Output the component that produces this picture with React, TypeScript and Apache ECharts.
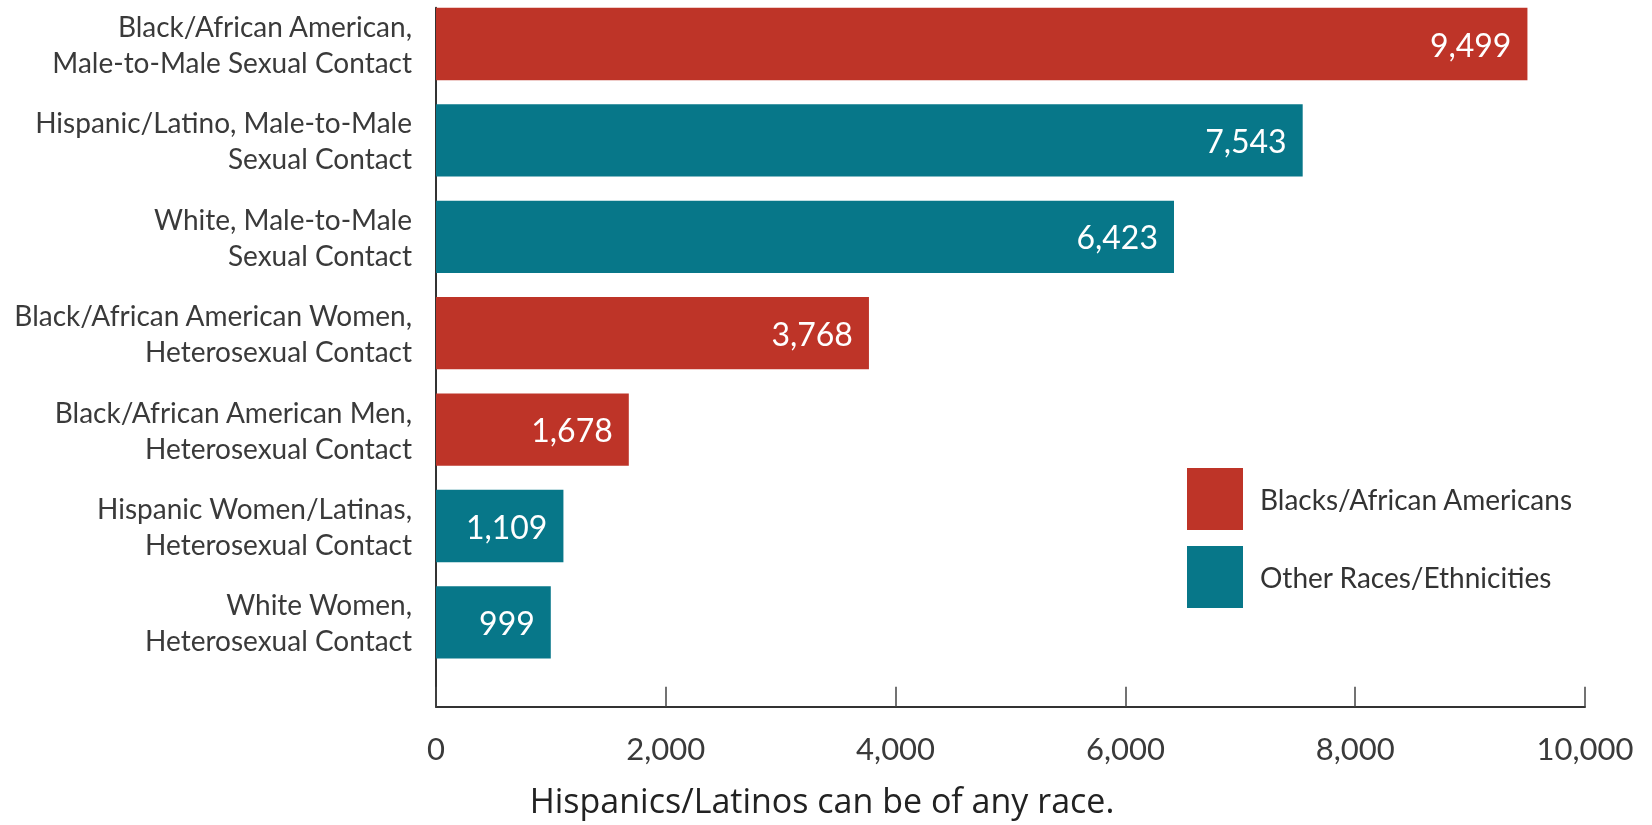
import React, { useEffect, useRef } from 'react';
import * as echarts from 'echarts';

const categories = [
  'Black/African American,\nMale-to-Male Sexual Contact',
  'Hispanic/Latino, Male-to-Male\nSexual Contact',
  'White, Male-to-Male\nSexual Contact',
  'Black/African American Women,\nHeterosexual Contact',
  'Black/African American Men,\nHeterosexual Contact',
  'Hispanic Women/Latinas,\nHeterosexual Contact',
  'White Women,\nHeterosexual Contact',
];
const values = [9499, 7543, 6423, 3768, 1678, 1109, 999];
const groupOf = [0, 1, 1, 0, 0, 1, 1];
const groupNames = ['Blacks/African Americans', 'Other Races/Ethnicities'];
const groupColors = ['#BE3428', '#077789'];
const xMin = 0;
const xMax = 10000;
const xInterval = 2000;
const note = 'Hispanics/Latinos can be of any race.';

const FONT = 'Lato, "Noto Sans", sans-serif';

export default function App() {
  const ref = useRef<HTMLDivElement>(null);
  useEffect(() => {
    if (!ref.current) return;
    const chart = echarts.init(ref.current, undefined, { renderer: 'svg' });

    const series = groupNames.map((name, g) => ({
      type: 'custom',
      name,
      itemStyle: { color: groupColors[g] },
      encode: { x: 0, y: 1 },
      data: values
        .map((v, i) => [v, i])
        .filter((d) => groupOf[d[1]] === g),
      renderItem: (params: any, api: any) => {
        const v = api.value(0);
        const idx = api.value(1);
        const start = api.coord([0, idx]);
        const end = api.coord([v, idx]);
        const h = Math.abs(api.size([0, 1])[1]) * 0.75;
        return {
          type: 'rect',
          shape: { x: start[0], y: start[1] - h / 2, width: end[0] - start[0], height: h },
          style: { fill: groupColors[g] },
          textContent: {
            style: {
              text: Number(v).toLocaleString('en-US'),
              fill: '#ffffff',
              fontSize: 32,
              fontFamily: FONT,
            },
          },
          textConfig: { position: 'insideRight', distance: 16 },
        };
      },
    }));

    chart.setOption({
      animation: false,
      grid: { left: 436, width: 1149, top: 7.85, height: 698.9, containLabel: false },
      xAxis: {
        type: 'value',
        min: xMin,
        max: xMax,
        interval: xInterval,
        position: 'bottom',
        axisLine: { show: true, onZero: false, lineStyle: { color: '#333', width: 2 } },
        axisTick: { show: true, inside: true, length: 20, lineStyle: { color: '#444', width: 1.5 } },
        splitLine: { show: false },
        axisLabel: { fontSize: 31, color: '#3a3a3a', margin: 26, fontFamily: FONT },
      },
      yAxis: {
        type: 'value',
        inverse: true,
        min: -0.375,
        max: 6.875,
        interval: 0.125,
        position: 'left',
        axisLine: { show: true, onZero: false, lineStyle: { color: '#333', width: 2 } },
        axisTick: { show: false },
        splitLine: { show: false },
        axisLabel: {
          fontSize: 28,
          lineHeight: 36,
          color: '#3a3a3a',
          margin: 24,
          fontFamily: FONT,
          showMinLabel: true,
          showMaxLabel: true,
          formatter: (v: number) => {
            const r = Math.round(v);
            return Math.abs(v - r) < 1e-6 && r >= 0 && r < categories.length ? categories[r] : '';
          },
        },
      },
      legend: {
        show: true,
        orient: 'vertical',
        left: 1182,
        top: 463,
        icon: 'rect',
        itemWidth: 56,
        itemHeight: 62,
        itemGap: 16,
        data: groupNames,
        textStyle: { fontSize: 28, color: '#333', fontFamily: FONT, padding: [0, 0, 0, 12] },
      },
      graphic: [
        {
          type: 'text',
          x: 822,
          y: 800,
          style: {
            text: note,
            fontSize: 34,
            fontFamily: '"Open Sans", sans-serif',
            fill: '#222',
            textAlign: 'center',
            textVerticalAlign: 'middle',
          },
        },
      ],
      series,
    });
    return () => chart.dispose();
  }, []);
  return <div ref={ref} style={{ position: 'fixed', left: 0, top: 0, width: 1652, height: 825 }} />;
}
